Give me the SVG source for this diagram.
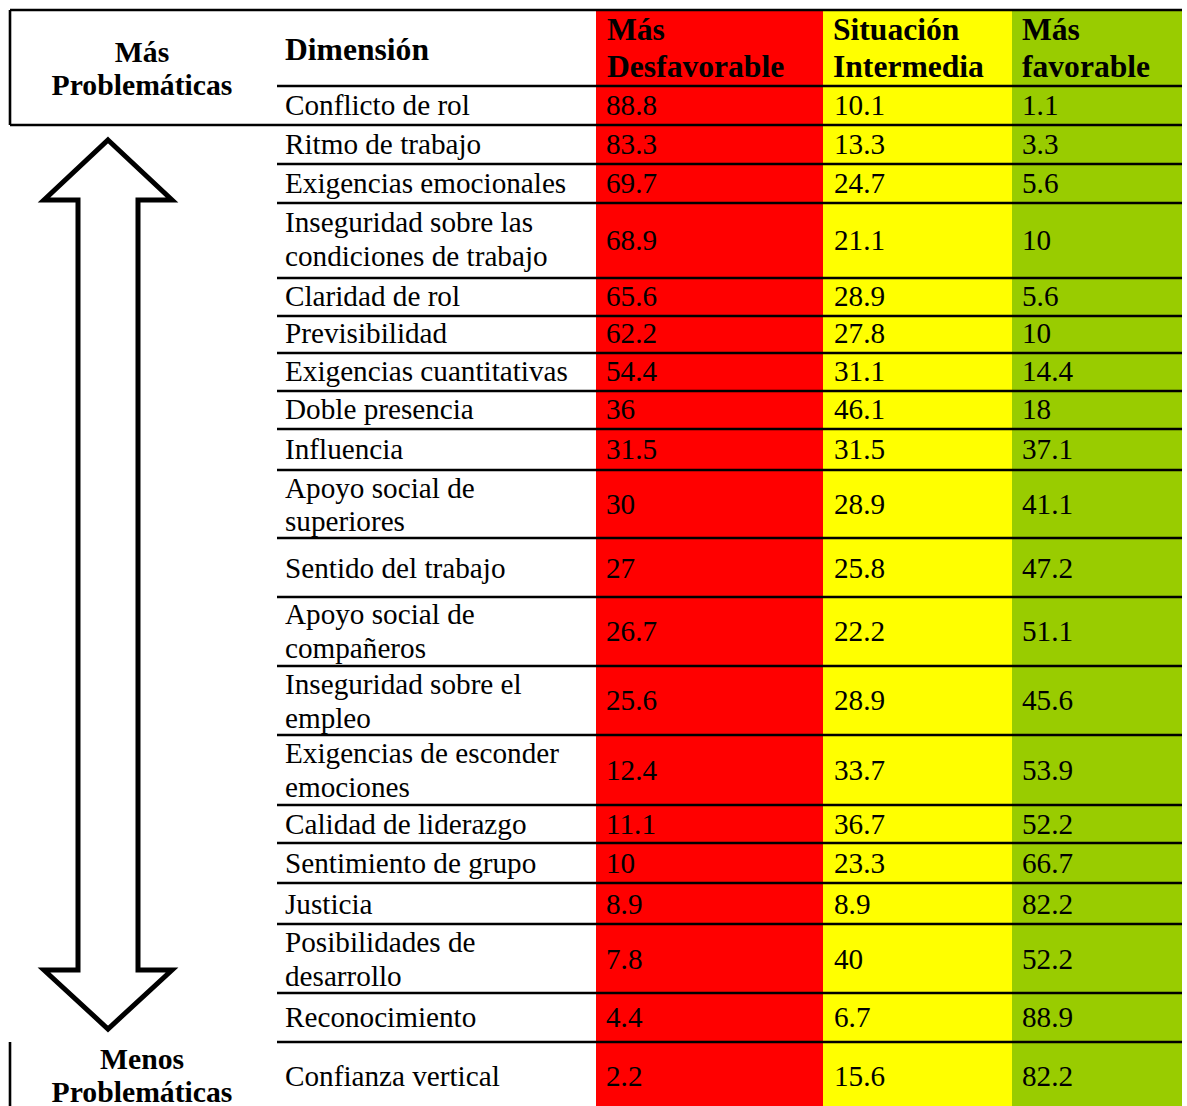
<svg xmlns="http://www.w3.org/2000/svg" width="1187" height="1106" viewBox="0 0 1187 1106">
<style>
text{font-family:"Liberation Serif","Times New Roman",serif;fill:#000}
.b{font-size:29.2px}
.h{font-size:31.6px;font-weight:bold}
.l{font-size:29.7px;font-weight:bold;text-anchor:middle}
.g{stroke:#000;stroke-width:2.6;fill:none}
</style>
<rect x="0" y="0" width="1187" height="1106" fill="#fff"/>
<g id="columns">
<rect x="596" y="10" width="227" height="1096" fill="#FF0000"/>
<rect x="823" y="10" width="189" height="1096" fill="#FFFF00"/>
<rect x="1012" y="10" width="170" height="1096" fill="#99CC00"/>
</g>
<g id="grid" class="g">
<path d="M10 10H1182M10 10V125M10 125H1182M10 1042V1106"/>
<path d="M277 86H1182M277 164H1182M277 203H1182M277 278H1182M277 316H1182M277 353H1182M277 391H1182M277 429H1182M277 470H1182M277 538H1182M277 597H1182M277 666H1182M277 735H1182M277 805H1182M277 843H1182M277 883H1182M277 924H1182M277 993H1182M277 1042H1182"/>
</g>
<g id="arrow">
<path d="M108 140L172 200H138V970H172L108 1029L44 970H78V200H44Z" fill="#fff" stroke="#000" stroke-width="5" stroke-miterlimit="10"/>
</g>
<g id="label-top"><text class="l" x="142" y="62">Más</text><text class="l" x="142" y="95">Problemáticas</text></g>
<g id="label-bottom"><text class="l" x="142" y="1069">Menos</text><text class="l" x="142" y="1102">Problemáticas</text></g>
<g id="header">
<text class="h" x="285" y="60">Dimensión</text>
<text class="h" x="607" y="40">Más</text><text class="h" x="607" y="77">Desfavorable</text>
<text class="h" x="833" y="40">Situación</text><text class="h" x="833" y="77">Intermedia</text>
<text class="h" x="1022" y="40">Más</text><text class="h" x="1022" y="77">favorable</text>
</g>
<g id="rows" class="b">
<g id="r1"><text x="285" y="115">Conflicto de rol</text><text x="606" y="115">88.8</text><text x="834" y="115">10.1</text><text x="1022" y="115">1.1</text></g>
<g id="r2"><text x="285" y="154">Ritmo de trabajo</text><text x="606" y="154">83.3</text><text x="834" y="154">13.3</text><text x="1022" y="154">3.3</text></g>
<g id="r3"><text x="285" y="193">Exigencias emocionales</text><text x="606" y="193">69.7</text><text x="834" y="193">24.7</text><text x="1022" y="193">5.6</text></g>
<g id="r4"><text x="285" y="232">Inseguridad sobre las</text><text x="285" y="266">condiciones de trabajo</text><text x="606" y="250">68.9</text><text x="834" y="250">21.1</text><text x="1022" y="250">10</text></g>
<g id="r5"><text x="285" y="306">Claridad de rol</text><text x="606" y="306">65.6</text><text x="834" y="306">28.9</text><text x="1022" y="306">5.6</text></g>
<g id="r6"><text x="285" y="343">Previsibilidad</text><text x="606" y="343">62.2</text><text x="834" y="343">27.8</text><text x="1022" y="343">10</text></g>
<g id="r7"><text x="285" y="381">Exigencias cuantitativas</text><text x="606" y="381">54.4</text><text x="834" y="381">31.1</text><text x="1022" y="381">14.4</text></g>
<g id="r8"><text x="285" y="419">Doble presencia</text><text x="606" y="419">36</text><text x="834" y="419">46.1</text><text x="1022" y="419">18</text></g>
<g id="r9"><text x="285" y="459">Influencia</text><text x="606" y="459">31.5</text><text x="834" y="459">31.5</text><text x="1022" y="459">37.1</text></g>
<g id="r10"><text x="285" y="498">Apoyo social de</text><text x="285" y="531">superiores</text><text x="606" y="514">30</text><text x="834" y="514">28.9</text><text x="1022" y="514">41.1</text></g>
<g id="r11"><text x="285" y="578">Sentido del trabajo</text><text x="606" y="578">27</text><text x="834" y="578">25.8</text><text x="1022" y="578">47.2</text></g>
<g id="r12"><text x="285" y="624">Apoyo social de</text><text x="285" y="658">compañeros</text><text x="606" y="641">26.7</text><text x="834" y="641">22.2</text><text x="1022" y="641">51.1</text></g>
<g id="r13"><text x="285" y="694">Inseguridad sobre el</text><text x="285" y="728">empleo</text><text x="606" y="710">25.6</text><text x="834" y="710">28.9</text><text x="1022" y="710">45.6</text></g>
<g id="r14"><text x="285" y="763">Exigencias de esconder</text><text x="285" y="797">emociones</text><text x="606" y="780">12.4</text><text x="834" y="780">33.7</text><text x="1022" y="780">53.9</text></g>
<g id="r15"><text x="285" y="834">Calidad de liderazgo</text><text x="606" y="834">11.1</text><text x="834" y="834">36.7</text><text x="1022" y="834">52.2</text></g>
<g id="r16"><text x="285" y="873">Sentimiento de grupo</text><text x="606" y="873">10</text><text x="834" y="873">23.3</text><text x="1022" y="873">66.7</text></g>
<g id="r17"><text x="285" y="914">Justicia</text><text x="606" y="914">8.9</text><text x="834" y="914">8.9</text><text x="1022" y="914">82.2</text></g>
<g id="r18"><text x="285" y="952">Posibilidades de</text><text x="285" y="986">desarrollo</text><text x="606" y="969">7.8</text><text x="834" y="969">40</text><text x="1022" y="969">52.2</text></g>
<g id="r19"><text x="285" y="1027">Reconocimiento</text><text x="606" y="1027">4.4</text><text x="834" y="1027">6.7</text><text x="1022" y="1027">88.9</text></g>
<g id="r20"><text x="285" y="1086">Confianza vertical</text><text x="606" y="1086">2.2</text><text x="834" y="1086">15.6</text><text x="1022" y="1086">82.2</text></g>
</g>
</svg>
